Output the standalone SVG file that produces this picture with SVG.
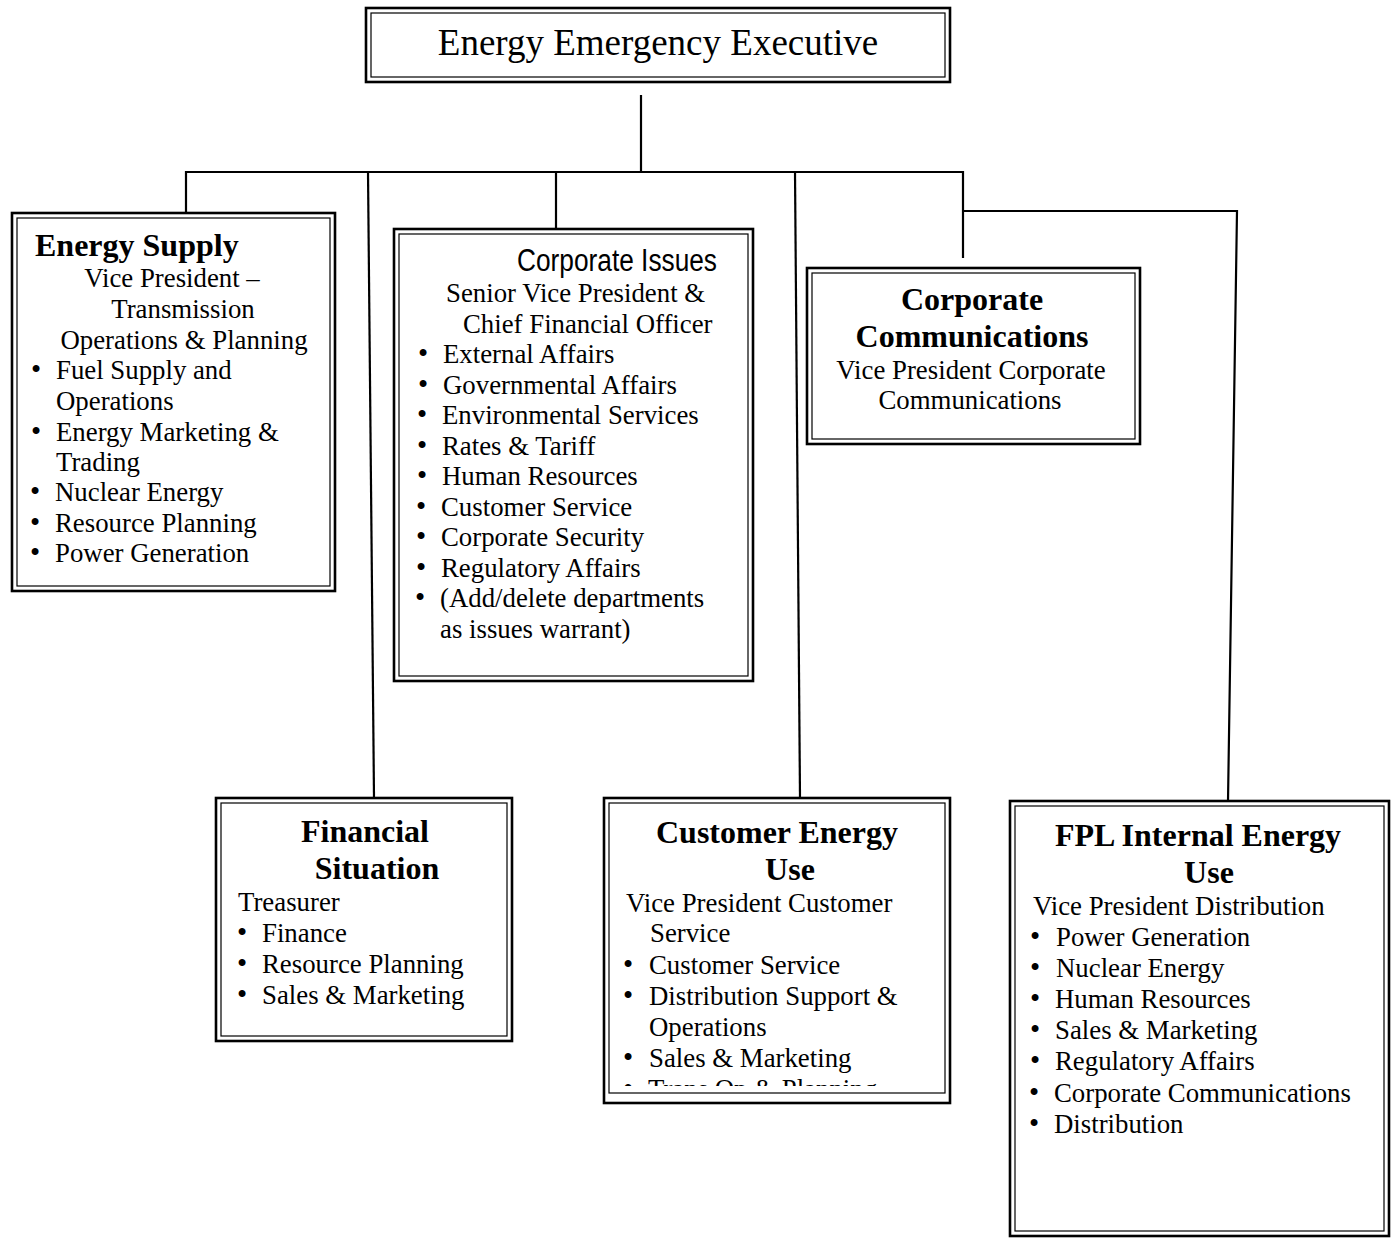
<svg xmlns="http://www.w3.org/2000/svg" width="1398" height="1239" viewBox="0 0 1398 1239">
  <style>
    .bo { fill: #fff; stroke: #000; stroke-width: 2.6; }
    .bi { fill: none; stroke: #000; stroke-width: 1.2; }
    .conn { fill: none; stroke: #000; stroke-width: 2.2; }
    text { font-family: "Liberation Serif", "Times New Roman", serif; font-size: 26.8px; fill: #000; }
    .h { font-weight: bold; font-size: 32px; }
    .c { text-anchor: middle; }
    .b { font-size: 29px; }
    .sans { font-family: "Liberation Sans", Arial, sans-serif; font-size: 31px; }
    .top { font-size: 37px; }
  </style>
  <defs>
    <clipPath id="cuClip">
      <rect x="609" y="803" width="336" height="283"/>
    </clipPath>
  </defs>

  <rect width="1398" height="1239" fill="#fff"/>

  <!-- connectors -->
  <g id="connectors">
    <path class="conn" d="M641,95 V172"/>
    <path class="conn" d="M186,213 V172 H963 V258"/>
    <path class="conn" d="M368,172 L374,798"/>
    <path class="conn" d="M556,172 V228"/>
    <path class="conn" d="M795,172 L800,798"/>
    <path class="conn" d="M963,211 H1237 L1228,801"/>
  </g>

  <!-- top -->
  <g id="executive">
    <rect class="bo" x="366" y="8" width="584" height="74"/>
    <rect class="bi" x="371" y="13" width="574" height="64"/>
    <text class="top c" x="658" y="55">Energy Emergency Executive</text>
  </g>

  <!-- energy supply -->
  <g id="energy-supply">
    <rect class="bo" x="12" y="213" width="323" height="378"/>
    <rect class="bi" x="17" y="218" width="313" height="368"/>
    <text class="h" x="35" y="256">Energy Supply</text>
    <text class="c" x="172" y="287">Vice President –</text>
    <text class="c" x="183" y="318">Transmission</text>
    <text class="c" x="184" y="349">Operations &amp; Planning</text>
    <text x="31" y="379"><tspan class="b">•</tspan><tspan x="56">Fuel Supply and</tspan></text>
    <text x="56" y="410">Operations</text>
    <text x="31" y="441"><tspan class="b">•</tspan><tspan x="56">Energy Marketing &amp;</tspan></text>
    <text x="56" y="471">Trading</text>
    <text x="30" y="501"><tspan class="b">•</tspan><tspan x="55">Nuclear Energy</tspan></text>
    <text x="30" y="532"><tspan class="b">•</tspan><tspan x="55">Resource Planning</tspan></text>
    <text x="30" y="562"><tspan class="b">•</tspan><tspan x="55">Power Generation</tspan></text>
  </g>

  <!-- corporate issues -->
  <g id="corporate-issues">
    <rect class="bo" x="394" y="229" width="359" height="452"/>
    <rect class="bi" x="399" y="234" width="349" height="442"/>
    <text class="sans" x="517" y="271" textLength="200" lengthAdjust="spacingAndGlyphs">Corporate Issues</text>
    <text x="446" y="302">Senior Vice President &amp;</text>
    <text x="463" y="333">Chief Financial Officer</text>
    <text x="418" y="363"><tspan class="b">•</tspan><tspan x="443">External Affairs</tspan></text>
    <text x="418" y="394"><tspan class="b">•</tspan><tspan x="443">Governmental Affairs</tspan></text>
    <text x="417" y="424"><tspan class="b">•</tspan><tspan x="442">Environmental Services</tspan></text>
    <text x="417" y="455"><tspan class="b">•</tspan><tspan x="442">Rates &amp; Tariff</tspan></text>
    <text x="417" y="485"><tspan class="b">•</tspan><tspan x="442">Human Resources</tspan></text>
    <text x="416" y="516"><tspan class="b">•</tspan><tspan x="441">Customer Service</tspan></text>
    <text x="416" y="546"><tspan class="b">•</tspan><tspan x="441">Corporate Security</tspan></text>
    <text x="416" y="577"><tspan class="b">•</tspan><tspan x="441">Regulatory Affairs</tspan></text>
    <text x="415" y="607"><tspan class="b">•</tspan><tspan x="440">(Add/delete departments</tspan></text>
    <text x="440" y="638">as issues warrant)</text>
  </g>

  <!-- corporate communications -->
  <g id="corporate-communications">
    <rect class="bo" x="807" y="268" width="333" height="176"/>
    <rect class="bi" x="812" y="273" width="323" height="166"/>
    <text class="h c" x="972" y="310">Corporate</text>
    <text class="h c" x="972" y="347">Communications</text>
    <text class="c" x="971" y="379">Vice President Corporate</text>
    <text class="c" x="970" y="409">Communications</text>
  </g>

  <!-- financial situation -->
  <g id="financial-situation">
    <rect class="bo" x="216" y="798" width="296" height="243"/>
    <rect class="bi" x="221" y="803" width="286" height="233"/>
    <text class="h c" x="365" y="842">Financial</text>
    <text class="h c" x="377" y="879">Situation</text>
    <text x="238" y="911">Treasurer</text>
    <text x="237" y="942"><tspan class="b">•</tspan><tspan x="262">Finance</tspan></text>
    <text x="237" y="973"><tspan class="b">•</tspan><tspan x="262">Resource  Planning</tspan></text>
    <text x="237" y="1004"><tspan class="b">•</tspan><tspan x="262">Sales &amp; Marketing</tspan></text>
  </g>

  <!-- customer energy use -->
  <g id="customer-energy-use">
    <rect class="bo" x="604" y="798" width="346" height="305"/>
    <rect class="bi" x="609" y="803" width="336" height="290"/>
    <text class="h c" x="777" y="843">Customer Energy</text>
    <text class="h c" x="790" y="880">Use</text>
    <text x="626" y="912">Vice President Customer</text>
    <text x="650" y="942">Service</text>
    <text x="623" y="974"><tspan class="b">•</tspan><tspan x="649">Customer Service</tspan></text>
    <text x="623" y="1005"><tspan class="b">•</tspan><tspan x="649">Distribution Support &amp;</tspan></text>
    <text x="649" y="1036">Operations</text>
    <text x="623" y="1067"><tspan class="b">•</tspan><tspan x="649">Sales &amp; Marketing</tspan></text>
    <g clip-path="url(#cuClip)">
      <text x="623" y="1098"><tspan class="b">•</tspan><tspan x="648">Trans Op &amp; Planning</tspan></text>
    </g>
  </g>

  <!-- FPL internal energy use -->
  <g id="fpl-internal-energy-use">
    <rect class="bo" x="1010" y="801" width="379" height="435"/>
    <rect class="bi" x="1015" y="806" width="369" height="425"/>
    <text class="h c" x="1198" y="846">FPL Internal Energy</text>
    <text class="h c" x="1209" y="883">Use</text>
    <text x="1033" y="915">Vice President Distribution</text>
    <text x="1030" y="946"><tspan class="b">•</tspan><tspan x="1056">Power Generation</tspan></text>
    <text x="1030" y="977"><tspan class="b">•</tspan><tspan x="1056">Nuclear Energy</tspan></text>
    <text x="1030" y="1008"><tspan class="b">•</tspan><tspan x="1055">Human Resources</tspan></text>
    <text x="1030" y="1039"><tspan class="b">•</tspan><tspan x="1055">Sales &amp; Marketing</tspan></text>
    <text x="1030" y="1070"><tspan class="b">•</tspan><tspan x="1055">Regulatory Affairs</tspan></text>
    <text x="1029" y="1102"><tspan class="b">•</tspan><tspan x="1054">Corporate Communications</tspan></text>
    <text x="1029" y="1133"><tspan class="b">•</tspan><tspan x="1054">Distribution</tspan></text>
  </g>
</svg>
